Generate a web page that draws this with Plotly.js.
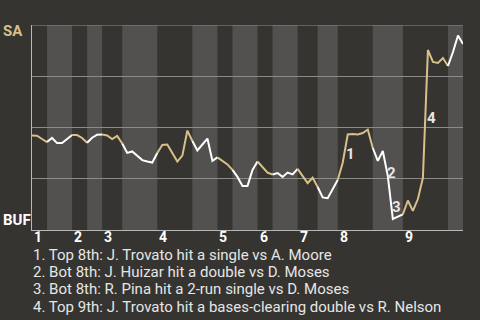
<!DOCTYPE html>
<html><head><meta charset="utf-8">
<script src="https://cdn.plot.ly/plotly-3.0.1.min.js"></script>
<style>html,body{margin:0;padding:0;background:#353430;}#chart{width:480px;height:320px;}</style>
</head><body><div id="chart"></div>
<script>
// SA win probability (%) after each plate appearance
const saWinProb = [
  46.1, 46.0, 44.4, 42.9, 44.9, 42.4, 42.4, 44.4, 46.3, 46.3,
  44.9, 42.6, 45.0, 46.5, 46.6, 46.1, 44.4, 45.9, 42.2, 37.6,
  38.3, 36.1, 34.1, 33.4, 32.9, 37.6, 41.5, 41.7, 37.6, 33.4,
  36.3, 48.5, 43.4, 38.8, 41.7, 44.6, 33.7, 35.4, 33.7, 32.0,
  29.3, 25.9, 21.5, 21.5, 29.3, 33.4, 30.7, 28.0, 27.1, 27.8,
  25.9, 28.0, 27.1, 29.8, 26.3, 22.9, 25.5, 21.0, 15.9, 15.5,
  20.0, 24.4, 32.8, 46.6, 46.8, 46.6, 47.3, 49.0, 40.0, 33.7,
  38.5, 26.3, 5.4, 6.6, 7.6, 14.4, 9.3, 15.1, 25.4, 87.8,
  82.0, 81.5, 83.9, 80.0, 86.8, 94.9, 90.7
];
// plate-appearance index where each half-inning starts (last = end of game)
const halfStarts = [0, 3, 8, 11, 14, 18, 25, 32, 37, 40, 45, 48, 53, 57, 61, 68, 74, 83, 86];
const innings = ['1', '2', '3', '4', '5', '6', '7', '8', '9'];
const teams = ['SA', 'BUF'];
const eventIdx = [62, 70, 71, 78];
const eventLabels = ['1', '2', '3', '4'];
const eventNotes = [
  '1. Top 8th: J. Trovato hit a single vs A. Moore',
  '2. Bot 8th: J. Huizar hit a double vs D. Moses',
  '3. Bot 8th: R. Pina hit a 2-run single vs D. Moses',
  '4. Top 9th: J. Trovato hit a bases-clearing double vs R. Nelson'
];

const TAN = '#d8c08a', WHITE = '#ffffff', BG = '#353430', BAND = '#525150', GRID = '#8c8b88';
const FONT = 'Roboto, "Open Sans", sans-serif';

const traces = [];
const shapes = [];
for (let h = 0; h < halfStarts.length - 1; h++) {
  const a = halfStarts[h], b = halfStarts[h + 1];
  const xs = [], ys = [];
  for (let i = a; i <= b && i < saWinProb.length; i++) { xs.push(i); ys.push(saWinProb[i]); }
  traces.push({
    x: xs, y: ys, type: 'scatter', mode: 'lines',
    line: {color: h % 2 === 0 ? TAN : WHITE, width: 2},
    hoverinfo: 'skip', showlegend: false
  });
  if (h % 2 === 1) {
    shapes.push({type: 'rect', xref: 'x', yref: 'y', x0: a, x1: b, y0: 0, y1: 100,
      fillcolor: BAND, line: {width: 0}, layer: 'below'});
  }
}
shapes.push({type: 'line', xref: 'paper', yref: 'y', x0: 0, x1: 1, y0: 100, y1: 100,
  line: {color: GRID, width: 1}, layer: 'above'});

const annotations = [];
innings.forEach((lab, k) => {
  annotations.push({xref: 'x', yref: 'paper', x: halfStarts[2 * k], y: 0, yshift: -7,
    xanchor: 'left', yanchor: 'middle', xshift: 0, text: lab, showarrow: false,
    font: {family: FONT, size: 14, color: '#ffffff', weight: 'bold'}});
});
annotations.push({xref: 'paper', yref: 'paper', x: 0, y: 1, xanchor: 'left', yanchor: 'middle',
  xshift: -31, yshift: -6, text: teams[0], showarrow: false,
  font: {family: FONT, size: 15, color: TAN, weight: 'bold'}});
annotations.push({xref: 'paper', yref: 'paper', x: 0, y: 0, xanchor: 'left', yanchor: 'middle',
  xshift: -31, yshift: 10, text: teams[1], showarrow: false,
  font: {family: FONT, size: 15, color: '#ffffff', weight: 'bold'}});
const evShift = [[5, -5], [6, -9], [6.5, -9], [6, -4]];
eventIdx.forEach((ix, k) => {
  annotations.push({xref: 'x', yref: 'y', x: ix + 0.5, y: (saWinProb[ix] + saWinProb[ix + 1]) / 2,
    xshift: evShift[k][0], yshift: evShift[k][1], xanchor: 'center', yanchor: 'middle',
    text: eventLabels[k], showarrow: false,
    font: {family: FONT, size: 15, color: '#e6e6e6', weight: 'bold'}});
});
eventNotes.forEach((t, k) => {
  annotations.push({xref: 'paper', yref: 'paper', x: 0, y: 0, xanchor: 'left', yanchor: 'middle',
    xshift: -1, yshift: -24.5 - 17.4 * k, text: t, showarrow: false,
    font: {family: FONT, size: 15, color: '#e6e6e6'}});
});

const layout = {
  width: 480, height: 320,
  margin: {l: 32, r: 17, t: 25, b: 90, pad: 0},
  paper_bgcolor: BG, plot_bgcolor: BG,
  showlegend: false,
  xaxis: {range: [0, 86], showgrid: false, zeroline: false, showline: true,
    linecolor: '#b8b8b6', linewidth: 1, showticklabels: false, ticks: '', fixedrange: true},
  yaxis: {range: [0, 100], tickvals: [0, 25, 50, 75, 100], showgrid: true,
    gridcolor: GRID, gridwidth: 1, zeroline: false, showline: true,
    linecolor: '#b8b8b6', linewidth: 1, showticklabels: false, ticks: '', fixedrange: true},
  shapes: shapes,
  annotations: annotations
};
Plotly.newPlot('chart', traces, layout, {displayModeBar: false, staticPlot: true});
</script></body></html>
